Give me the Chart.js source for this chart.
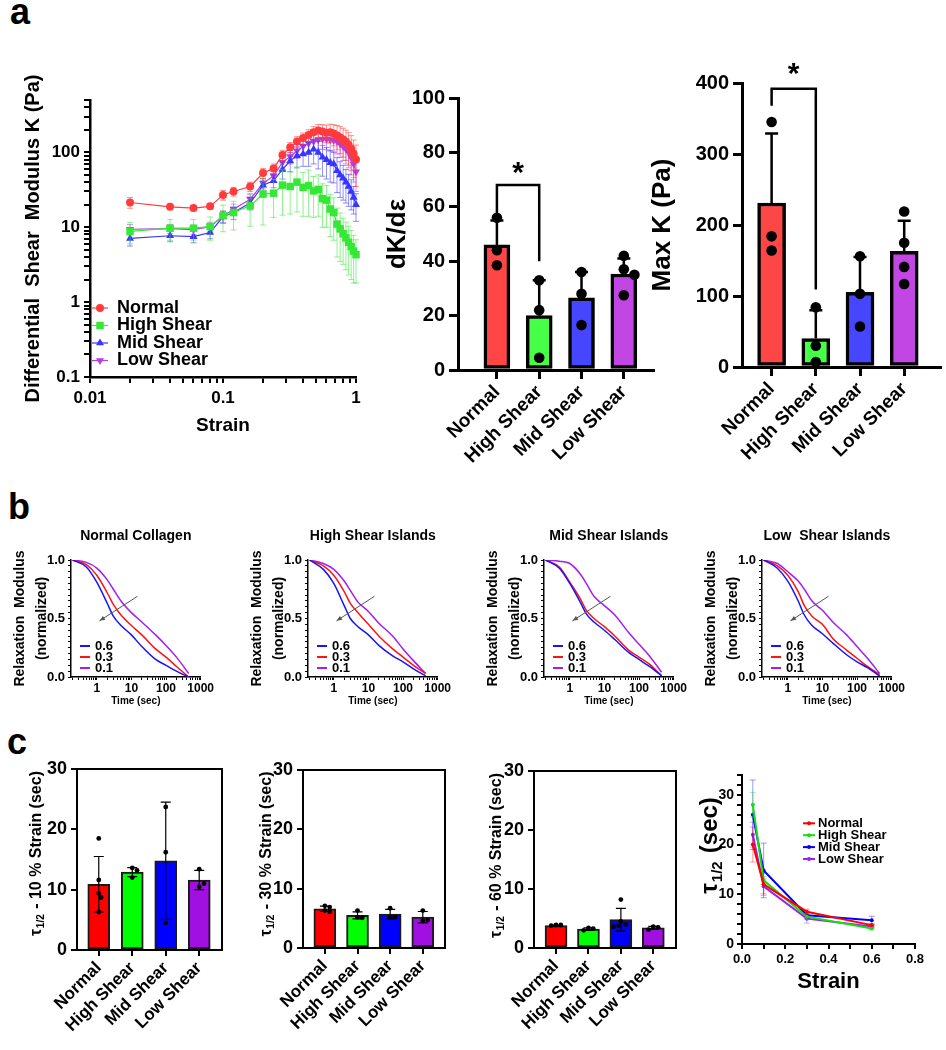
<!DOCTYPE html>
<html>
<head>
<meta charset="utf-8">
<title>Collagen shear islands</title>
<script src="https://cdn.jsdelivr.net/npm/chart.js@4.4.1/dist/chart.umd.min.js"></script>
<style>
  html, body { margin: 0; background: #fff; }
  body { position: relative; width: 946px; height: 1050px; overflow: hidden; font-family: "Liberation Sans", Arial, sans-serif; }
  canvas { position: absolute; }
  .panel { position: absolute; font-weight: bold; font-size: 36px; line-height: 36px; }
</style>
</head>
<body>
<div class="panel" style="left:10px;top:-6px">a</div>
<div class="panel" style="left:8px;top:489px">b</div>
<div class="panel" style="left:7px;top:724px">c</div>
<canvas id="kStrain"></canvas>
<canvas id="dkChart"></canvas>
<canvas id="maxKChart"></canvas>
<canvas id="relaxNormal"></canvas>
<canvas id="relaxHigh"></canvas>
<canvas id="relaxMid"></canvas>
<canvas id="relaxLow"></canvas>
<canvas id="tau10"></canvas>
<canvas id="tau30"></canvas>
<canvas id="tau60"></canvas>
<canvas id="tauStrainChart"></canvas>
<script>
// ---- data ----
const groups = ['Normal', 'High Shear', 'Mid Shear', 'Low Shear'];

// a, left: differential shear modulus vs strain
const strain = [0.02, 0.04, 0.06, 0.08, 0.10, 0.12, 0.16, 0.20, 0.24, 0.28, 0.32, 0.36, 0.40, 0.44,
  0.48, 0.52, 0.56, 0.60, 0.64, 0.68, 0.72, 0.76, 0.80, 0.84, 0.88, 0.92, 0.96, 1.00];
const kNormal = [21.4, 18.7, 18.0, 19.0, 27, 30, 35, 53, 61, 92, 117, 140, 155, 170, 185, 195, 190, 182, 186, 178, 168, 158, 148, 138, 125, 112, 96, 80];
const kNormalSD = [3.5, 1.5, 1.5, 1.5, 4, 4, 5, 8, 9, 14, 18, 22, 26, 30, 36, 40, 44, 48, 52, 56, 60, 62, 62, 60, 58, 55, 50, 45];
const kHigh = [8.8, 9.7, 9.7, 10.2, 14.2, 15.7, 19.3, 27.7, 28.5, 36.5, 35, 40, 34, 36, 30.5, 32, 24, 23, 17.5, 15.7, 11, 9.5, 8.2, 7.2, 6.3, 5.5, 4.8, 4.3];
const kHighSD = [2.8, 3, 3, 3.5, 5.5, 6.5, 9, 17, 15, 22, 20, 24, 20, 22, 17, 18, 14, 13, 10, 9, 7, 6, 5, 4.5, 4, 3.5, 3, 2.5];
const kMid = [7.1, 7.7, 7.5, 8.5, 13.8, 15.7, 21, 36.5, 41.7, 59, 77, 90, 95, 100, 110, 100, 86, 80, 73, 70, 57, 50, 45, 40, 35, 30, 25, 20];
const kMidSD = [1.5, 1.3, 1.3, 1.5, 2.5, 3, 4, 6, 8, 15, 22, 28, 30, 35, 40, 40, 38, 36, 33, 31, 28, 25, 22, 19, 16, 13, 10, 8];
const kLow = [9.4, 9.6, 9.3, 10.2, 14, 17.4, 23.7, 38.5, 48.6, 73.5, 88, 105, 120, 132, 140, 148, 150, 150, 148, 145, 140, 130, 120, 110, 100, 85, 70, 55];
const kLowSD = [1.5, 1.3, 1.3, 1.5, 2.5, 3, 4, 6, 8, 14, 18, 22, 26, 30, 34, 38, 40, 42, 44, 45, 45, 44, 42, 40, 38, 35, 30, 25];

// a, middle / right
const dkMean = [46, 20, 26.5, 35.3];
const dkSD = [9, 13, 9.5, 5.7];
const dkPoints = [[56, 44, 38.5], [33, 22, 4.5], [36, 28, 16.5], [42, 37, 35, 27.5]];
const maxKMean = [231, 40, 105, 163];
const maxKSD = [98, 40, 50, 43];
const maxKPoints = [[345, 184, 164], [84, 30, 7], [156, 103, 57], [219, 175, 141, 117]];

// b: normalized relaxation modulus vs time (s), strain 0.6 / 0.3 / 0.1
const relaxTime = [0.2, 0.5, 1, 2, 3, 5, 10, 20, 50, 100, 200, 450];
const normal06 = [1.00, 0.94, 0.81, 0.63, 0.52, 0.44, 0.36, 0.26, 0.15, 0.10, 0.05, 0.00];
const normal03 = [1.00, 0.96, 0.87, 0.72, 0.62, 0.53, 0.44, 0.36, 0.24, 0.17, 0.09, 0.00];
const normal01 = [1.00, 0.98, 0.93, 0.83, 0.75, 0.65, 0.55, 0.47, 0.36, 0.27, 0.17, 0.03];
const high06 = [1.00, 0.92, 0.80, 0.61, 0.50, 0.43, 0.36, 0.27, 0.18, 0.13, 0.07, 0.01];
const high03 = [1.00, 0.95, 0.87, 0.73, 0.63, 0.55, 0.45, 0.35, 0.24, 0.17, 0.10, 0.03];
const high01 = [1.00, 0.97, 0.92, 0.82, 0.74, 0.64, 0.56, 0.46, 0.35, 0.24, 0.14, 0.03];
const mid06 = [1.00, 0.93, 0.80, 0.64, 0.54, 0.47, 0.40, 0.32, 0.21, 0.15, 0.09, 0.01];
const mid03 = [1.00, 0.94, 0.81, 0.67, 0.57, 0.50, 0.43, 0.35, 0.23, 0.17, 0.11, 0.01];
const mid01 = [1.00, 0.99, 0.97, 0.88, 0.80, 0.69, 0.61, 0.53, 0.38, 0.28, 0.18, 0.04];
const low06 = [1.00, 0.93, 0.82, 0.65, 0.53, 0.44, 0.37, 0.29, 0.19, 0.13, 0.08, 0.01];
const low03 = [1.00, 0.95, 0.87, 0.73, 0.61, 0.52, 0.45, 0.33, 0.23, 0.16, 0.09, 0.02];
const low01 = [1.00, 0.97, 0.90, 0.82, 0.75, 0.65, 0.57, 0.47, 0.36, 0.26, 0.16, 0.03];

// c: half relaxation time
const tau10Mean = [10.9, 12.9, 14.8, 11.6];
const tau10SD = [4.6, 0.75, 9.7, 1.6];
const tau10Pts = [[18.5, 11.6, 9.4, 8.7, 6.3], [13.6, 13.2, 12.0], [23.7, 16.2, 4.5], [13.4, 10.5, 11.0]];
const tau30Mean = [6.6, 5.5, 5.7, 5.2];
const tau30SD = [0.45, 0.6, 0.8, 0.95];
const tau30Pts = [[7.1, 6.9, 6.3, 6.1], [6.3, 5.2, 5.1], [6.7, 5.2, 5.2], [6.3, 4.6, 4.7]];
const tau60Mean = [3.8, 3.2, 4.8, 3.4];
const tau60SD = [0.1, 0.2, 1.9, 0.25];
const tau60Pts = [[3.9, 3.9, 3.8], [3.4, 3.3, 3.0], [8.2, 4.5, 4.0, 3.8, 3.6], [3.6, 3.5, 3.1]];
const tauStrain = [0.05, 0.1, 0.3, 0.6];
const tauNormal = [20, 12, 6.5, 3.8];
const tauNormalSD = [3.5, 2.2, 0.5, 0.2];
const tauHigh = [28, 12.8, 5.5, 3.1];
const tauHighSD = [2.5, 0.8, 0.6, 0.25];
const tauMid = [26, 14.8, 5.8, 4.8];
const tauMidSD = [7, 5.5, 0.7, 0.8];
const tauLow = [22, 11.6, 5.1, 3.5];
const tauLowSD = [2.5, 1.5, 0.9, 0.3];

// ---- setup ----
const FONT = '"Liberation Sans", Arial, Helvetica, sans-serif';
const bold = size => ({family: FONT, size, weight: 'bold'});
Chart.defaults.font.family = FONT;
Chart.defaults.color = '#000';
Chart.defaults.animation = false;
Chart.defaults.responsive = false;
Chart.defaults.maintainAspectRatio = false;
Chart.defaults.events = [];
Chart.defaults.plugins.legend.display = false;
Chart.defaults.plugins.tooltip.enabled = false;

function fade(hex, a) {
  const n = parseInt(hex.slice(1), 16);
  return `rgba(${n >> 16},${(n >> 8) & 255},${n & 255},${a})`;
}

function place(id, box) {
  const c = document.getElementById(id);
  c.width = box.w; c.height = box.h;
  Object.assign(c.style, {left: box.left + 'px', top: box.top + 'px', width: box.w + 'px', height: box.h + 'px'});
  return c;
}

// pin the plot area to given page coordinates
function fitArea(options, box, area, titleH = 0) {
  options.layout = {padding: {left: 0, bottom: 0, right: box.left + box.w - area.x1, top: area.y0 - box.top - titleH}};
  options.scales.x.afterFit = s => { s.height = box.top + box.h - area.y1; };
  options.scales.y.afterFit = s => { s.width = area.x0 - box.left; };
}

const tickList = list => s => { s.ticks = list.map(v => ({value: v})); };
const isDecade = v => Math.abs(Math.log10(v) - Math.round(Math.log10(v))) < 1e-6;
const decadeLabel = v => isDecade(v) ? (v >= 1 ? String(Math.round(v)) : String(+v.toPrecision(1))) : '';
function logTicks(lo, hi) {
  const out = [];
  for (let d = lo; d < hi * 1.0001; d *= 10)
    for (let k = 1; k <= 9; k++) {
      const v = +(k * d).toPrecision(3);
      if (v >= lo * 0.999 && v <= hi * 1.0001) out.push(v);
    }
  return out;
}

function axisOpts(o) {
  const a = {
    min: o.min, max: o.max, offset: false,
    grid: {drawOnChartArea: false, offset: false, color: '#000', lineWidth: o.lw, tickLength: o.tl},
    border: {color: '#000', width: o.bw},
    ticks: {font: bold(o.fs), color: '#000', padding: o.pad, autoSkip: false, maxRotation: o.rot || 0, minRotation: o.rot || 0},
    afterBuildTicks: tickList(o.ticks)
  };
  if (o.type) a.type = o.type;
  if (o.cb) a.ticks.callback = o.cb;
  if (o.title) a.title = {display: true, text: o.title, font: o.tfont, padding: o.tpad, color: '#000'};
  return a;
}

// jitter overlapping dots sideways (beeswarm style)
function dots(groupsVals, yPx, xPx, r) {
  const out = [];
  groupsVals.forEach((vals, i) => {
    const placed = [];
    vals.forEach(v => {
      const py = v * yPx;
      let dx = 0;
      for (let k = 0; k < 14; k++) {
        const c = k === 0 ? 0 : (k % 2 ? 1 : -1) * Math.ceil(k / 2) * r;
        if (placed.every(p => Math.hypot(p.dx - c, p.py - py) >= 1.9 * r)) { dx = c; break; }
      }
      placed.push({dx, py});
      out.push({x: i + dx / xPx, y: v});
    });
  });
  return out;
}

function drawErr(chart, i, when) {
  const ds = chart.data.datasets[i];
  if (!ds.errors || !ds.errStyle || ds.errStyle.when !== when) return;
  const st = ds.errStyle, meta = chart.getDatasetMeta(i);
  const ys = chart.scales[meta.yAxisID], ctx = chart.ctx;
  ctx.save();
  ctx.strokeStyle = st.color; ctx.lineWidth = st.width;
  meta.data.forEach((el, j) => {
    const v = ds.data[j].y, e = ds.errors[j];
    const hiV = Math.min(v + e, ys.max);
    const top = ys.getPixelForValue(hiV);
    const loOk = v - e > ys.min;
    const lo = st.dir === 'both' ? ys.getPixelForValue(loOk ? v - e : ys.min) : ys.getPixelForValue(v);
    const x = el.x;
    ctx.beginPath();
    ctx.moveTo(x, lo); ctx.lineTo(x, top);
    if (v + e <= ys.max) { ctx.moveTo(x - st.cap, top); ctx.lineTo(x + st.cap, top); }
    if (st.dir === 'both' && loOk) { ctx.moveTo(x - st.cap, lo); ctx.lineTo(x + st.cap, lo); }
    ctx.stroke();
  });
  ctx.restore();
}
const errBars = {
  id: 'errBars',
  beforeDatasetDraw(chart, args) { drawErr(chart, args.index, 'before'); },
  afterDatasetDraw(chart, args) { drawErr(chart, args.index, 'after'); }
};

const innerLegend = {
  id: 'innerLegend',
  afterDraw(chart, args, o) {
    const {ctx, chartArea: a} = chart;
    ctx.save();
    ctx.font = `bold ${o.size}px ${FONT}`;
    ctx.textBaseline = 'middle'; ctx.textAlign = 'left';
    o.items.forEach((it, k) => {
      const y = a.top + o.dy + k * o.gap;
      ctx.strokeStyle = it.color; ctx.lineWidth = o.lineWidth;
      ctx.beginPath(); ctx.moveTo(a.left + o.x0, y); ctx.lineTo(a.left + o.x1, y); ctx.stroke();
      if (it.style) {
        ctx.fillStyle = it.color; ctx.strokeStyle = it.color;
        const px = a.left + (o.x0 + o.x1) / 2;
        if (Chart.helpers && Chart.helpers.drawPoint) {
          Chart.helpers.drawPoint(ctx, {pointStyle: it.style, radius: it.r, rotation: it.rot || 0, borderWidth: 0}, px, y);
        } else {
          ctx.beginPath(); ctx.arc(px, y, it.r, 0, Math.PI * 2); ctx.fill();
        }
      }
      ctx.fillStyle = '#000';
      ctx.fillText(it.label, a.left + o.tx, y);
    });
    ctx.restore();
  }
};

const arrow = {
  id: 'arrow',
  afterDatasetsDraw(chart, args, o) {
    const xs = chart.scales.x, ys = chart.scales.y, ctx = chart.ctx;
    const x0 = xs.getPixelForValue(o.from[0]), y0 = ys.getPixelForValue(o.from[1]);
    const x1 = xs.getPixelForValue(o.to[0]), y1 = ys.getPixelForValue(o.to[1]);
    const ang = Math.atan2(y1 - y0, x1 - x0);
    ctx.save();
    ctx.strokeStyle = o.color; ctx.fillStyle = o.color; ctx.lineWidth = o.width;
    ctx.beginPath(); ctx.moveTo(x0, y0); ctx.lineTo(x1, y1); ctx.stroke();
    ctx.beginPath();
    ctx.moveTo(x1, y1);
    ctx.lineTo(x1 - o.head * Math.cos(ang - 0.4), y1 - o.head * Math.sin(ang - 0.4));
    ctx.lineTo(x1 - o.head * Math.cos(ang + 0.4), y1 - o.head * Math.sin(ang + 0.4));
    ctx.closePath(); ctx.fill();
    ctx.restore();
  }
};

const sig = {
  id: 'sig',
  afterDraw(chart, args, o) {
    const xs = chart.scales.x, ys = chart.scales.y, ctx = chart.ctx;
    const xa = xs.getPixelForValue(o.x0), xb = xs.getPixelForValue(o.x1);
    const top = ys.getPixelForValue(o.top);
    ctx.save();
    ctx.strokeStyle = '#000'; ctx.lineWidth = o.width; ctx.lineJoin = 'miter';
    ctx.beginPath();
    ctx.moveTo(xa, ys.getPixelForValue(o.y0)); ctx.lineTo(xa, top);
    ctx.lineTo(xb, top); ctx.lineTo(xb, ys.getPixelForValue(o.y1));
    ctx.stroke();
    ctx.fillStyle = '#000'; ctx.font = `bold ${o.size}px ${FONT}`;
    ctx.textAlign = 'center'; ctx.textBaseline = 'middle';
    ctx.fillText('*', (xa + xb) / 2, ys.getPixelForValue(o.star));
    ctx.restore();
  }
};

const frame = {
  id: 'frame',
  afterDraw(chart, args, o) {
    const {ctx, chartArea: a} = chart;
    ctx.save();
    ctx.strokeStyle = '#000'; ctx.lineWidth = o.width;
    ctx.beginPath(); ctx.moveTo(a.left, a.top); ctx.lineTo(a.right, a.top); ctx.lineTo(a.right, a.bottom); ctx.stroke();
    ctx.restore();
  }
};

// y title "τ1/2 ..." with a subscript
function drawTau(ctx, cx, cy, size, rest) {
  const big = `bold ${size}px ${FONT}`, small = `bold ${Math.round(size * 0.62)}px ${FONT}`;
  ctx.save();
  ctx.translate(cx, cy); ctx.rotate(-Math.PI / 2);
  ctx.fillStyle = '#000'; ctx.textBaseline = 'alphabetic'; ctx.textAlign = 'left';
  ctx.font = big; const w1 = ctx.measureText('τ').width + size * 0.04;
  ctx.font = small; const w2 = ctx.measureText('1/2').width + size * 0.06;
  ctx.font = big; const w3 = ctx.measureText(rest).width;
  let x = -(w1 + w2 + w3) / 2;
  const base = size * 0.36;
  ctx.fillText('τ', x, base); x += w1;
  ctx.font = small; ctx.fillText('1/2', x, base + size * 0.22); x += w2;
  ctx.font = big; ctx.fillText(rest, x, base);
  ctx.restore();
}
const tauTitle = {
  id: 'tauTitle',
  afterDraw(chart, args, o) {
    const a = chart.chartArea;
    drawTau(chart.ctx, a.left + o.dx, (a.top + a.bottom) / 2 + o.dy, o.size, o.rest);
  }
};

// ---- a, left: K vs strain (log-log) ----
{
  const box = {left: 0, top: 56, w: 372, h: 382}, area = {x0: 90, x1: 356, y0: 100, y1: 377};
  place('kStrain', box);
  const series = [
    {label: 'Normal', y: kNormal, sd: kNormalSD, color: '#ff3b3b', style: 'circle', r: 4, rot: 0},
    {label: 'High Shear', y: kHigh, sd: kHighSD, color: '#35e835', style: 'rect', r: 5.3, rot: 0},
    {label: 'Mid Shear', y: kMid, sd: kMidSD, color: '#3636ff', style: 'triangle', r: 4.6, rot: 0},
    {label: 'Low Shear', y: kLow, sd: kLowSD, color: '#b43ee0', style: 'triangle', r: 4.6, rot: 180}
  ];
  const options = {
    scales: {
      x: axisOpts({type: 'logarithmic', min: 0.01, max: 1, ticks: logTicks(0.01, 1), cb: decadeLabel, fs: 17, pad: 5, lw: 2, tl: 6, bw: 2.5,
        title: 'Strain', tfont: bold(19), tpad: {bottom: 1}}),
      y: axisOpts({type: 'logarithmic', min: 0.1, max: 500, ticks: logTicks(0.1, 500), cb: decadeLabel, fs: 17, pad: 4, lw: 2, tl: 6, bw: 2.5,
        title: 'Differential  Shear  Modulus K (Pa)', tfont: bold(20), tpad: {top: 21}})
    },
    plugins: {
      innerLegend: {items: series.map(s => ({label: s.label, color: s.color, style: s.style, r: s.r, rot: s.rot})),
        x0: 2, x1: 18, tx: 27, dy: 208, gap: 17.5, size: 18, lineWidth: 1.2}
    }
  };
  fitArea(options, box, area);
  new Chart('kStrain', {
    type: 'line',
    data: {datasets: series.map(s => ({
      label: s.label, data: strain.map((x, j) => ({x, y: s.y[j]})),
      borderColor: s.color, backgroundColor: s.color, borderWidth: 1.2,
      pointStyle: s.style, pointRadius: s.r, pointRotation: s.rot, pointBorderWidth: 0, clip: false,
      errors: s.sd, errStyle: {color: fade(s.color, 0.55), width: 1, cap: 3, dir: 'both', when: 'before'}
    }))},
    options,
    plugins: [errBars, innerLegend]
  });
}

// ---- bar panels ----
function barPanel(id, box, area, o) {
  place(id, box);
  const xPx = (area.x1 - area.x0) / (o.xmax - o.xmin);
  const yPx = (area.y1 - area.y0) / o.ymax;
  const options = {
    scales: {
      x: axisOpts({type: 'linear', min: o.xmin, max: o.xmax, ticks: [0, 1, 2, 3], cb: v => groups[v] ?? '',
        fs: o.xfs, pad: 2, lw: o.axw, tl: o.tl, bw: o.axw, rot: 45}),
      y: axisOpts({min: 0, max: o.ymax, ticks: o.yticks, fs: o.yfs, pad: 4, lw: o.axw, tl: o.tl, bw: o.axw,
        title: o.ytitle, tfont: bold(o.ytfs || 10), tpad: {top: o.ytpad || 0}})
    },
    plugins: {sig: o.sig || false, frame: o.frame || false, tauTitle: o.tau || false}
  };
  fitArea(options, box, area);
  new Chart(id, {
    type: 'bar',
    data: {datasets: [
      {type: 'bar', data: o.mean.map((m, i) => ({x: i, y: m})), backgroundColor: o.colors, borderColor: o.edge,
        borderWidth: o.bw, borderSkipped: false, barThickness: o.bt, order: 2, errors: o.sd, errStyle: o.err},
      {type: 'scatter', data: dots(o.points, yPx, xPx, o.r), pointRadius: o.r, backgroundColor: '#000',
        borderWidth: 0, order: 1}
    ]},
    options,
    plugins: [errBars, sig, frame, tauTitle]
  });
}

const aColors = ['#ff4646', '#46ff46', '#4646ff', '#c246e4'];
barPanel('dkChart', {left: 370, top: 40, w: 292, h: 460}, {x0: 458, x1: 653, y0: 98, y1: 370}, {
  xmin: -0.92, xmax: 3.69, ymax: 100, yticks: [0, 20, 40, 60, 80, 100], xfs: 19, yfs: 20, axw: 3, tl: 9,
  ytitle: 'dK/dε', ytfs: 26, ytpad: 12.4,
  mean: dkMean, sd: dkSD, points: dkPoints, colors: aColors, edge: '#000', bw: 3.5, bt: 26, r: 5.3,
  err: {color: '#000', width: 2.5, cap: 6.5, dir: 'up', when: 'after'},
  sig: {x0: 0, x1: 1, y0: 54.5, top: 68, y1: 40, star: 72, width: 2.5, size: 30}
});
barPanel('maxKChart', {left: 645, top: 40, w: 301, h: 460}, {x0: 742, x1: 940, y0: 83, y1: 367}, {
  xmin: -0.67, xmax: 3.81, ymax: 400, yticks: [0, 100, 200, 300, 400], xfs: 19, yfs: 20, axw: 3, tl: 9,
  ytitle: 'Max K (Pa)', ytfs: 26, ytpad: 2.4,
  mean: maxKMean, sd: maxKSD, points: maxKPoints, colors: aColors, edge: '#000', bw: 3.5, bt: 28, r: 5.3,
  err: {color: '#000', width: 2.5, cap: 6.5, dir: 'up', when: 'after'},
  sig: {x0: 0, x1: 1, y0: 368, top: 392, y1: 109, star: 412, width: 2.5, size: 30}
});

// ---- b: relaxation curves ----
const relaxColors = ['#1414ff', '#ff1414', '#a31ef0'];
function relaxPanel(id, left, title, curves) {
  const box = {left, top: 520, w: 215, h: 190};
  const area = {x0: left + 71, x1: left + 203, y0: 560, y1: 677};
  place(id, box);
  const yt = Array.from({length: 21}, (_, i) => +(i * 0.05).toFixed(2));
  const options = {
    scales: {
      x: axisOpts({type: 'logarithmic', min: 0.18, max: 1000, ticks: logTicks(0.1, 1000).filter(v => v >= 0.18),
        cb: decadeLabel, fs: 12, pad: 1, lw: 1, tl: 3, bw: 1.5,
        title: 'Time (sec)', tfont: bold(10), tpad: {bottom: 3}}),
      y: axisOpts({min: 0, max: 1, ticks: yt, cb: v => (v === 0 || v === 0.5 || v === 1) ? v.toFixed(1) : '',
        fs: 13, pad: 3, lw: 1, tl: 3, bw: 1.5,
        title: ['Relaxation  Modulus', '(normalized)'], tfont: {family: FONT, size: 14, weight: 'bold', lineHeight: '22px'}, tpad: {top: 9}})
    },
    plugins: {
      title: {display: true, text: title, font: bold(14), color: '#000', padding: {top: 0.5, bottom: 15.5}, fullSize: false},
      innerLegend: {items: ['0.6', '0.3', '0.1'].map((l, k) => ({label: l, color: relaxColors[k]})),
        x0: 9, x1: 19, tx: 24, dy: 86, gap: 11, size: 13, lineWidth: 2},
      arrow: {from: [15, 0.69], to: [1.2, 0.48], color: '#555', width: 1, head: 6}
    }
  };
  fitArea(options, box, area, 32.8);
  new Chart(id, {
    type: 'line',
    data: {datasets: curves.map((c, k) => ({
      label: ['0.6', '0.3', '0.1'][k], data: relaxTime.map((t, j) => ({x: t, y: c[j]})),
      borderColor: relaxColors[k], borderWidth: 1.5, pointRadius: 0, cubicInterpolationMode: 'monotone'
    }))},
    options,
    plugins: [innerLegend, arrow]
  });
}
relaxPanel('relaxNormal', 0, 'Normal Collagen', [normal06, normal03, normal01]);
relaxPanel('relaxHigh', 237, 'High Shear Islands', [high06, high03, high01]);
relaxPanel('relaxMid', 473, 'Mid Shear Islands', [mid06, mid03, mid01]);
relaxPanel('relaxLow', 691, 'Low  Shear Islands', [low06, low03, low01]);

// ---- c: tau 1/2 bars ----
const cColors = ['#ff0000', '#00ff00', '#0000ff', '#a010e0'];
const cCommon = {ymax: 30, yticks: [0, 10, 20, 30], xfs: 17, yfs: 18, axw: 2, tl: 6, colors: cColors, edge: '#1a1a1a',
  bw: 2, bt: 22, r: 2.4, err: {color: '#000', width: 1.2, cap: 5, dir: 'both', when: 'after'}, frame: {width: 2}};
barPanel('tau10', {left: 10, top: 740, w: 225, h: 310}, {x0: 77, x1: 222, y0: 769, y1: 950}, Object.assign({}, cCommon, {
  xmin: -0.65, xmax: 3.68, mean: tau10Mean, sd: tau10SD, points: tau10Pts,
  tau: {rest: ' - 10 % Strain (sec)', size: 16, dx: -42, dy: -6}
}));
barPanel('tau30', {left: 240, top: 740, w: 215, h: 310}, {x0: 303, x1: 445, y0: 770, y1: 948}, Object.assign({}, cCommon, {
  xmin: -0.67, xmax: 3.68, mean: tau30Mean, sd: tau30SD, points: tau30Pts,
  tau: {rest: ' - 30 % Strain (sec)', size: 16, dx: -38, dy: -5}
}));
barPanel('tau60', {left: 470, top: 740, w: 215, h: 310}, {x0: 534, x1: 676, y0: 771, y1: 948}, Object.assign({}, cCommon, {
  xmin: -0.68, xmax: 3.70, mean: tau60Mean, sd: tau60SD, points: tau60Pts,
  tau: {rest: ' - 60 % Strain (sec)', size: 16, dx: -39, dy: -4}
}));

// ---- c, right: tau 1/2 vs strain ----
{
  const box = {left: 685, top: 740, w: 261, h: 280}, area = {x0: 742, x1: 915, y0: 775, y1: 944};
  place('tauStrainChart', box);
  const series = [
    {label: 'Normal', y: tauNormal, sd: tauNormalSD, color: '#ff0000'},
    {label: 'High Shear', y: tauHigh, sd: tauHighSD, color: '#11e011'},
    {label: 'Mid Shear', y: tauMid, sd: tauMidSD, color: '#0000ff'},
    {label: 'Low Shear', y: tauLow, sd: tauLowSD, color: '#a020f0'}
  ];
  const xt = Array.from({length: 9}, (_, i) => +(i * 0.1).toFixed(1));
  const yt = Array.from({length: 18}, (_, i) => i * 2);
  const options = {
    scales: {
      x: axisOpts({type: 'linear', min: 0, max: 0.8, ticks: xt, cb: v => Math.abs(v * 5 - Math.round(v * 5)) < 1e-6 ? v.toFixed(1) : '',
        fs: 13, pad: 3, lw: 2, tl: 5, bw: 2, title: 'Strain', tfont: bold(22), tpad: {bottom: 24.8}}),
      y: axisOpts({min: 0, max: 34, ticks: yt, cb: v => v % 10 === 0 ? String(v) : '', fs: 14, pad: 3, lw: 2, tl: 5, bw: 2})
    },
    plugins: {
      innerLegend: {items: series.map(s => ({label: s.label, color: s.color, style: 'circle', r: 2})),
        x0: 61, x1: 73, tx: 76, dy: 48.3, gap: 11.9, size: 13, lineWidth: 2},
      tauTitle: {rest: ' (sec)', size: 24, dx: -34, dy: -14}
    }
  };
  fitArea(options, box, area);
  new Chart('tauStrainChart', {
    type: 'line',
    data: {datasets: series.map(s => ({
      label: s.label, data: tauStrain.map((x, j) => ({x, y: s.y[j]})),
      borderColor: s.color, backgroundColor: s.color, borderWidth: 2, pointRadius: 2, pointBorderWidth: 0, clip: false,
      errors: s.sd, errStyle: {color: fade(s.color, 0.4), width: 1, cap: 3, dir: 'both', when: 'before'}
    }))},
    options,
    plugins: [errBars, innerLegend, tauTitle]
  });
}
</script>
</body>
</html>
